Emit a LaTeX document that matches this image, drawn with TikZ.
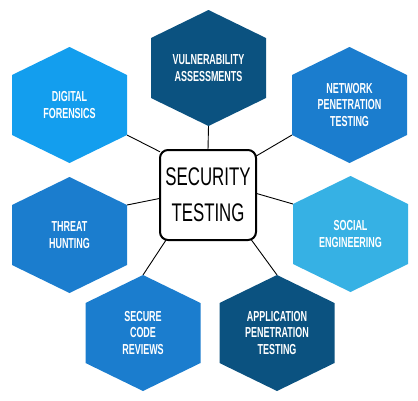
\documentclass[tikz,border=0pt]{standalone}
\usepackage{fontspec}
\usetikzlibrary{backgrounds}
\newfontfamily\hexfont[FakeStretch=0.62]{Liberation Sans}
\newfontfamily\boxfont[FakeStretch=0.66]{Liberation Sans}
\definecolor{deepblue}{RGB}{11,82,128}
\definecolor{brightblue}{RGB}{19,158,238}
\definecolor{midblue}{RGB}{27,125,206}
\definecolor{skyblue}{RGB}{54,177,228}
% hexagon cell: name, centre, colour, label
\newcommand{\hexcell}[4]{%
\fill[#3] (#2) ++(0,-58) coordinate (#1-n) -- ++(57.5,28) coordinate (#1-ne)
  -- ++(0,60) coordinate (#1-se) -- ++(-57.5,28) coordinate (#1-s)
  -- ++(-57.5,-28) coordinate (#1-sw) -- ++(0,-60) coordinate (#1-nw) -- cycle;
\node[hexlabel] (#1) at (#2) {#4};}
\begin{document}
\begin{tikzpicture}[x=1pt,y=-1pt,inner sep=0pt,outer sep=0pt,
hexlabel/.style={text=white,align=center,font=\hexfont\bfseries\fontsize{14.5}{16.8}\selectfont},
centerbox/.style={draw,fill=white,rounded corners=8pt,line width=2pt,minimum width=96pt,minimum height=90pt,align=center,font=\boxfont\fontsize{25.5}{36}\selectfont},
link/.style={line width=0.9pt}]
\useasboundingbox (0,0) rectangle (418,400);
\hexcell{vul}{208.5,68}{deepblue}{VULNERABILITY\\ASSESSMENTS}
\hexcell{dig}{69.5,105}{brightblue}{DIGITAL\\FORENSICS}
\hexcell{net}{349.5,105}{midblue}{NETWORK\\PENETRATION\\TESTING}
\hexcell{soc}{350.5,234}{skyblue}{SOCIAL\\ENGINEERING}
\hexcell{thr}{69.5,235}{midblue}{THREAT\\HUNTING}
\hexcell{sec}{143,333}{midblue}{SECURE\\CODE\\REVIEWS}
\hexcell{app}{277,333}{deepblue}{APPLICATION\\PENETRATION\\TESTING}
\node[centerbox] (st) at (208,195) {SECURITY\\TESTING};
\begin{scope}[on background layer]
\draw[link] (vul-s) -- (st.north);
\draw[link] (dig-se) -- (st.138);
\draw[link] (net-sw) -- (st.39);
\draw[link] (soc-nw) -- (st.2);
\draw[link] (thr-ne) -- (st.184);
\draw[link] (sec-n) -- (st.227);
\draw[link] (app-n) -- (st.314);
\end{scope}
\end{tikzpicture}
\end{document}
